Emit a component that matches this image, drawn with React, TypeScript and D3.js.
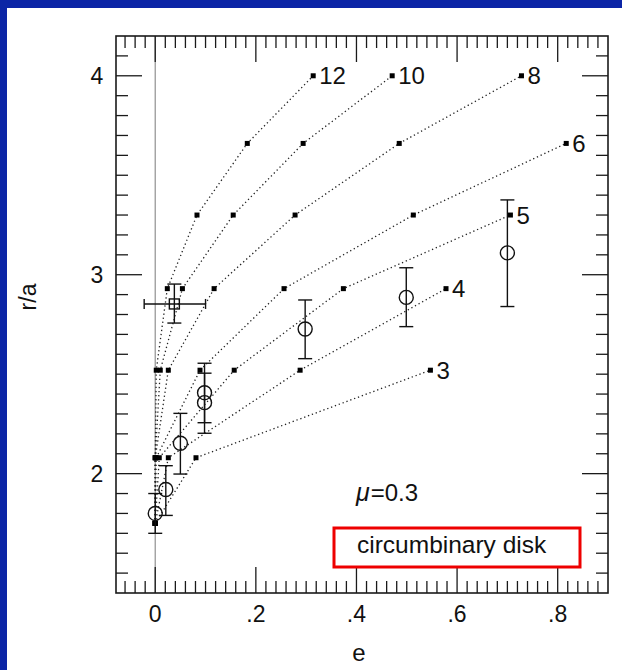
import React from "react";
import * as d3 from "d3";

// resonance radii (r/a) at which the model curves are sampled
const rLevels = [1.75, 2.08, 2.52, 2.93, 3.30, 3.66, 4.0];

const seriesNames = ["12", "10", "8", "6", "5", "4", "3"];
const e12 = [0, 0, 0.002, 0.024, 0.083, 0.183, 0.314];
const e10 = [0, 0, 0.01, 0.054, 0.155, 0.294, 0.471];
const e8 = [0, 0, 0.026, 0.117, 0.278, 0.485, 0.728];
const e6 = [0, 0.002, 0.089, 0.256, 0.513, 0.817];
const e5 = [0, 0.008, 0.157, 0.374, 0.706];
const e4 = [0, 0.026, 0.288, 0.578];
const e3 = [0, 0.081, 0.547];
const seriesE = [e12, e10, e8, e6, e5, e4, e3];

// observed points with error bars (circles)
const obsE = [0, 0.021, 0.05, 0.098, 0.098, 0.298, 0.499, 0.7];
const obsR = [1.8, 1.92, 2.153, 2.407, 2.357, 2.727, 2.886, 3.11];
const obsLo = [1.7, 1.79, 1.998, 2.256, 2.203, 2.578, 2.739, 2.84];
const obsHi = [1.9, 2.04, 2.303, 2.555, 2.505, 2.873, 3.035, 3.376];

// square point with x and y error bars
const sqE = 0.038;
const sqR = 2.853;
const sqELo = -0.022;
const sqEHi = 0.1;
const sqRLo = 2.757;
const sqRHi = 2.953;

const xTickLabels = ["0", ".2", ".4", ".6", ".8"];
const xTickValues = [0, 0.2, 0.4, 0.6, 0.8];
const yTickValues = [2, 3, 4];

export default function App() {
  const W = 622, H = 670;
  const L = 116, R = 608, T = 36, B = 593;
  const x = d3.scaleLinear().domain([-0.078, 0.9]).range([L, R]);
  const y = d3.scaleLinear().domain([1.4, 4.2]).range([B, T]);

  const xMinor = d3.range(-3, 45).map((i) => Math.round(i * 2) / 100);
  const yMinor = d3.range(15, 42).map((i) => i / 10);
  const majLen = 26, minLen = 12;
  const axisColor = "#1a1a1a";
  const font = "'Liberation Sans', Arial, Helvetica, sans-serif";

  const line = d3
    .line<[number, number]>()
    .x((d) => x(d[0]))
    .y((d) => y(d[1]));

  const isMajorX = (v: number) => xTickValues.some((m) => Math.abs(m - v) < 1e-6);
  const isMajorY = (v: number) => yTickValues.some((m) => Math.abs(m - v) < 1e-6);

  const cap = 7;
  const ms = 5;

  return (
    <svg
      width={W}
      height={H}
      style={{ position: "absolute", left: 0, top: 0, display: "block" }}
      fontFamily={font}
    >
      <rect x={0} y={0} width={W} height={H} fill="#0b25a6" />
      <rect x={7} y={8} width={W - 7} height={H - 8} fill="#ffffff" />

      {/* vertical line at e = 0 */}
      <line x1={x(0)} x2={x(0)} y1={T} y2={B} stroke="#999" strokeWidth={1.3} />

      {/* ticks */}
      {xMinor.map((v, i) => {
        const len = isMajorX(v) ? majLen : minLen;
        return (
          <g key={"xt" + i} stroke={axisColor} strokeWidth={1.3}>
            <line x1={x(v)} x2={x(v)} y1={B} y2={B - len} />
            <line x1={x(v)} x2={x(v)} y1={T} y2={T + len} />
          </g>
        );
      })}
      {yMinor.map((v, i) => {
        const len = isMajorY(v) ? majLen : minLen;
        return (
          <g key={"yt" + i} stroke={axisColor} strokeWidth={1.3}>
            <line x1={L} x2={L + len} y1={y(v)} y2={y(v)} />
            <line x1={R} x2={R - len} y1={y(v)} y2={y(v)} />
          </g>
        );
      })}
      <rect x={L} y={T} width={R - L} height={B - T} fill="none" stroke={axisColor} strokeWidth={1.6} />

      {/* tick labels */}
      {xTickValues.map((v, i) => (
        <text key={"xl" + i} x={x(v)} y={622} fontSize={23} textAnchor="middle" fill="#111">
          {xTickLabels[i]}
        </text>
      ))}
      {yTickValues.map((v, i) => (
        <text key={"yl" + i} x={97} y={y(v) + 8} fontSize={23} textAnchor="middle" fill="#111">
          {String(v)}
        </text>
      ))}
      <text x={359} y={661} fontSize={24} textAnchor="middle" fill="#111">e</text>
      <text
        transform={`translate(36,297) rotate(-90)`}
        fontSize={23}
        textAnchor="middle"
        fill="#111"
      >
        r/a
      </text>

      {/* model curves */}
      {seriesE.map((es, si) => {
        const pts: [number, number][] = es.map((e, k) => [e, rLevels[k]]);
        const last = pts[pts.length - 1];
        return (
          <g key={"s" + si}>
            <path
              d={line(pts) || ""}
              fill="none"
              stroke="#222"
              strokeWidth={1.3}
              strokeDasharray="1.3 2.8"
            />
            {pts.map((p, k) => (
              <rect
                key={k}
                x={x(p[0]) - ms / 2}
                y={y(p[1]) - ms / 2}
                width={ms}
                height={ms}
                fill="#000"
              />
            ))}
            <text
              x={x(last[0]) + 6}
              y={y(last[1]) + 8.5}
              fontSize={24}
              fill="#111"
            >
              {seriesNames[si]}
            </text>
          </g>
        );
      })}

      {/* observed points */}
      {obsE.map((e, i) => (
        <g key={"o" + i} stroke="#111" strokeWidth={1.4} fill="none">
          <line x1={x(e)} x2={x(e)} y1={y(obsLo[i])} y2={y(obsHi[i])} />
          <line x1={x(e) - cap} x2={x(e) + cap} y1={y(obsLo[i])} y2={y(obsLo[i])} />
          <line x1={x(e) - cap} x2={x(e) + cap} y1={y(obsHi[i])} y2={y(obsHi[i])} />
          <circle cx={x(e)} cy={y(obsR[i])} r={7} />
        </g>
      ))}

      {/* square point */}
      <g stroke="#111" strokeWidth={1.4} fill="none">
        <line x1={x(sqE)} x2={x(sqE)} y1={y(sqRLo)} y2={y(sqRHi)} />
        <line x1={x(sqE) - cap} x2={x(sqE) + cap} y1={y(sqRLo)} y2={y(sqRLo)} />
        <line x1={x(sqE) - cap} x2={x(sqE) + cap} y1={y(sqRHi)} y2={y(sqRHi)} />
        <line x1={x(sqELo)} x2={x(sqEHi)} y1={y(sqR)} y2={y(sqR)} />
        <line x1={x(sqELo)} x2={x(sqELo)} y1={y(sqR) - 5} y2={y(sqR) + 5} />
        <line x1={x(sqEHi)} x2={x(sqEHi)} y1={y(sqR) - 5} y2={y(sqR) + 5} />
        <rect x={x(sqE) - 5} y={y(sqR) - 5} width={10} height={10} />
      </g>

      {/* annotations */}
      <text x={356} y={501} fontSize={24} fill="#111">
        <tspan fontStyle="italic" fontSize={25}>μ</tspan>
        <tspan dx={1}>=0.3</tspan>
      </text>
      <rect x={334} y={528} width={246} height={39} fill="none" stroke="#ee0000" strokeWidth={3} />
      <text x={357} y={553} fontSize={24.5} fill="#111">circumbinary disk</text>
    </svg>
  );
}
